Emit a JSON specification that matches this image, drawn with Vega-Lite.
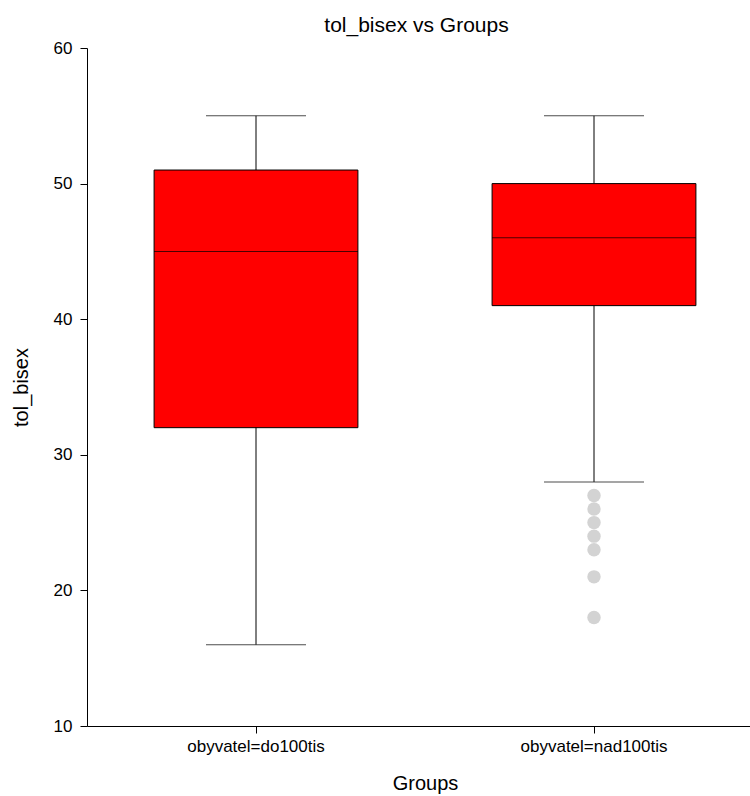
{
  "$schema": "https://vega.github.io/schema/vega-lite/v6.json",
  "width": 663,
  "height": 678,
  "autosize": {"type": "none"},
  "padding": {"left": 87, "top": 48, "right": 0, "bottom": 70},
  "background": "white",
  "config": {
    "view": {"stroke": null},
    "font": "Liberation Sans",
    "axis": {
      "domainColor": "black",
      "tickColor": "black",
      "labelColor": "black",
      "titleColor": "black",
      "labelFont": "Liberation Sans",
      "titleFont": "Liberation Sans",
      "labelFontSize": 17,
      "titleFontSize": 20,
      "titleFontWeight": "normal",
      "grid": false,
      "tickSize": 7,
      "domainWidth": 1,
      "tickWidth": 1
    }
  },
  "title": {
    "text": "tol_bisex vs Groups",
    "font": "Liberation Sans",
    "fontSize": 21,
    "fontWeight": "normal",
    "color": "black",
    "anchor": "middle",
    "offset": 3,
    "dx": -2
  },
  "datasets": {
    "boxes": [
      {"group": "obyvatel=do100tis", "lower": 16, "q1": 32, "median": 45, "q3": 51, "upper": 55},
      {"group": "obyvatel=nad100tis", "lower": 28, "q1": 41, "median": 46, "q3": 50, "upper": 55}
    ],
    "outliers": [
      {"group": "obyvatel=nad100tis", "value": 27},
      {"group": "obyvatel=nad100tis", "value": 26},
      {"group": "obyvatel=nad100tis", "value": 25},
      {"group": "obyvatel=nad100tis", "value": 24},
      {"group": "obyvatel=nad100tis", "value": 23},
      {"group": "obyvatel=nad100tis", "value": 21},
      {"group": "obyvatel=nad100tis", "value": 18}
    ]
  },
  "layer": [
    {
      "data": {"name": "boxes"},
      "mark": {"type": "rule", "color": "black", "strokeWidth": 1},
      "encoding": {
        "x": {"field": "group", "type": "nominal", "scale": {"range": [0, 676], "paddingInner": 0, "paddingOuter": 0},
              "axis": {"title": "Groups", "labelAngle": 0, "labelPadding": 5, "titlePadding": 19}},
        "y": {"field": "lower", "type": "quantitative", "scale": {"domain": [10, 60], "nice": false},
              "axis": {"title": "tol_bisex", "values": [10, 20, 30, 40, 50, 60], "labelPadding": 8, "titlePadding": 22}},
        "y2": {"field": "upper"}
      }
    },
    {
      "data": {"name": "boxes"},
      "mark": {"type": "tick", "color": "black", "size": 100, "thickness": 1},
      "encoding": {
        "x": {"field": "group", "type": "nominal"},
        "y": {"field": "lower", "type": "quantitative"}
      }
    },
    {
      "data": {"name": "boxes"},
      "mark": {"type": "tick", "color": "black", "size": 100, "thickness": 1},
      "encoding": {
        "x": {"field": "group", "type": "nominal"},
        "y": {"field": "upper", "type": "quantitative"}
      }
    },
    {
      "data": {"name": "boxes"},
      "mark": {"type": "bar", "fill": "#ff0000", "stroke": "black", "strokeWidth": 1, "width": {"band": 0.603}},
      "encoding": {
        "x": {"field": "group", "type": "nominal"},
        "y": {"field": "q1", "type": "quantitative"},
        "y2": {"field": "q3"}
      }
    },
    {
      "data": {"name": "boxes"},
      "mark": {"type": "tick", "color": "black", "size": 204, "thickness": 1},
      "encoding": {
        "x": {"field": "group", "type": "nominal"},
        "y": {"field": "median", "type": "quantitative"}
      }
    },
    {
      "data": {"name": "outliers"},
      "mark": {"type": "circle", "color": "#d3d3d3", "opacity": 1, "size": 180},
      "encoding": {
        "x": {"field": "group", "type": "nominal"},
        "y": {"field": "value", "type": "quantitative"}
      }
    }
  ]
}
